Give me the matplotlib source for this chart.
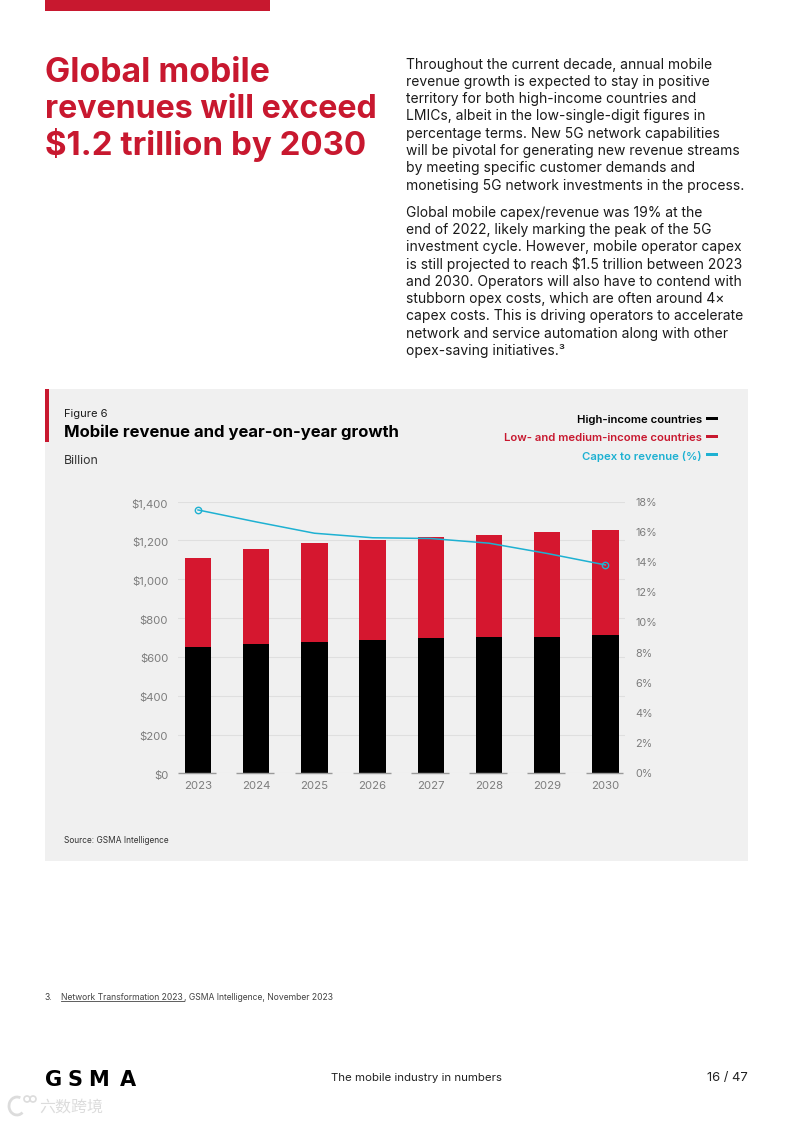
import matplotlib
matplotlib.use("Agg")
import matplotlib.pyplot as plt
from matplotlib.patches import Rectangle, Ellipse, Arc
from matplotlib.lines import Line2D
from matplotlib.transforms import ScaledTranslation
import numpy as np

W, H = 793, 1122
FONT = "Inter"
RED = "#d5172f"
TITLE_RED = "#c8182f"
CYAN = "#1eb1d2"
GREY = "#7d7d7d"
PANEL = "#f0f0f0"
MARK = "#dcdcdc"

years = ["2023", "2024", "2025", "2026", "2027", "2028", "2029", "2030"]
high_income = [651, 667, 677, 688, 698, 701, 703, 713]
total_revenue = [1108, 1153, 1184, 1202, 1216, 1230, 1242, 1252]
capex_ratio = [17.44, 16.65, 15.9, 15.6, 15.55, 15.24, 14.56, 13.8]
left_ticks = [0, 200, 400, 600, 800, 1000, 1200, 1400]
right_ticks = [0, 2, 4, 6, 8, 10, 12, 14, 16, 18]

title_lines = ["Global mobile", "revenues will exceed", "$1.2 trillion by 2030"]
title_sizes = [24.3, 23.2, 23.8]
para_1 = [
    "Throughout the current decade, annual mobile",
    "revenue growth is expected to stay in positive",
    "territory for both high-income countries and",
    "LMICs, albeit in the low-single-digit figures in",
    "percentage terms. New 5G network capabilities",
    "will be pivotal for generating new revenue streams",
    "by meeting specific customer demands and",
    "monetising 5G network investments in the process.",
]
para_2 = [
    "Global mobile capex/revenue was 19% at the",
    "end of 2022, likely marking the peak of the 5G",
    "investment cycle. However, mobile operator capex",
    "is still projected to reach $1.5 trillion between 2023",
    "and 2030. Operators will also have to contend with",
    "stubborn opex costs, which are often around 4×",
    "capex costs. This is driving operators to accelerate",
    "network and service automation along with other",
    "opex-saving initiatives.³",
]
legend_rows = [
    ("High-income countries", "#000000"),
    ("Low- and medium-income countries", TITLE_RED),
    ("Capex to revenue (%)", CYAN),
]
logo_letters = [("G", 45), ("S", 67.5), ("M", 88), ("A", 120)]


def fx(x):
    return x / W


def fy(y):
    return 1 - y / H


def put(x, y, s, size, **kw):
    # x, y are page pixels, y is the text centre unless va says otherwise
    kw.setdefault("va", "center")
    kw.setdefault("family", FONT)
    return fig.text(fx(x), fy(y), s, fontsize=size, **kw)


def box(x0, y0, x1, y1, color, z=1):
    fig.add_artist(Rectangle((fx(x0), fy(y1)), (x1 - x0) / W, (y1 - y0) / H,
                             transform=fig.transFigure, color=color, lw=0, zorder=z))


fig = plt.figure(figsize=(W / 100, H / 100), dpi=100, facecolor="white")

# page furniture
box(45, 0, 270, 11, TITLE_RED)
box(45, 389, 748, 861, PANEL, z=-2)
box(45, 389, 49, 442, TITLE_RED)

for i, line in enumerate(title_lines):
    put(45, 73 + i * 36, line, title_sizes[i], color=TITLE_RED, fontweight="bold")
for i, line in enumerate(para_1):
    put(406, 64.5 + i * 17.3, line, 10, color="#1a1a1a")
for i, line in enumerate(para_2):
    put(406, 212.5 + i * 17.3, line, 10, color="#1a1a1a")

# chart header
put(64, 414, "Figure 6", 8, color="#1a1a1a")
put(64, 432.5, "Mobile revenue and year-on-year growth", 12, color="black", fontweight="bold")
put(64, 460.5, "Billion", 8.9, color="#333333")
for i, (label, color) in enumerate(legend_rows):
    y = 420 + i * 18.2
    put(702, y, label, 8.15, color=color, ha="right", fontweight="semibold")
    box(706, y - 3, 718, y, color)

# chart area, spans $0 to $1,400 vertically
ax = fig.add_axes([fx(178), fy(773.4), (625 - 178) / W, (773.4 - 501.5) / H])
ax.patch.set_alpha(0)
x = np.arange(len(years))
red_part = [t - h for t, h in zip(total_revenue, high_income)]
ax.bar(x, high_income, width=0.455, color="black", zorder=3)
ax.bar(x, red_part, width=0.455, bottom=high_income, color=RED, zorder=3)
ax.hlines(np.zeros(len(x)), x - 0.34, x + 0.31, color="#9a9a9a", lw=1, zorder=4, clip_on=False)
ax.set_xlim(-0.344, 7.337)
ax.set_ylim(0, 1400)
ax.set_xticks(x, years)
ax.set_yticks(left_ticks, [f"${v:,}" for v in left_ticks])
ax.yaxis.grid(True, color="#dfdfdf", lw=0.8, zorder=0)
ax.set_axisbelow(True)
ax.tick_params(length=0, labelsize=8.2, labelcolor=GREY)
ax.tick_params(axis="x", pad=5.2)
ax.tick_params(axis="y", pad=7)
for lab in ax.get_xticklabels() + ax.get_yticklabels():
    lab.set_family(FONT)
# the dollar labels sit a little under their gridlines in the original
shift = ScaledTranslation(0, -1.5 / 100, fig.dpi_scale_trans)
for lab in ax.get_yticklabels():
    lab.set_transform(lab.get_transform() + shift)
for s in ax.spines.values():
    s.set_visible(False)

ax2 = ax.twinx()
ax2.set_ylim(0, 18)
ax2.set_yticks(right_ticks, [f"{v}%" for v in right_ticks])
ax2.tick_params(length=0, labelsize=7.8, labelcolor=GREY, pad=7.5)
for lab in ax2.get_yticklabels():
    lab.set_family(FONT)
for s in ax2.spines.values():
    s.set_visible(False)
ax2.plot(x, capex_ratio, color=CYAN, lw=1.1, zorder=5)
ax2.plot(x[[0, -1]], np.array(capex_ratio)[[0, -1]], ls="none", marker="o", ms=4.6,
         mfc="none", mec=CYAN, mew=1, zorder=6)

put(64, 840.5, "Source: GSMA Intelligence", 6, color="#333333")

# footer
put(45, 997, "3.", 6.2, color="#444444")
put(61, 997, "Network Transformation 2023", 6.2, color="#444444")
fig.add_artist(Line2D([fx(61), fx(184)], [fy(1001)] * 2, color="#444444", lw=0.6))
put(184, 997, ", GSMA Intelligence, November 2023", 6.2, color="#444444")
for letter, px in logo_letters:
    put(px, 1080.5, letter, 15, color="black", fontweight="bold", family="DejaVu Sans")
put(331, 1078, "The mobile industry in numbers", 8.25, color="#222222")
put(748, 1078, "16 / 47", 9.3, color="#222222", ha="right")

# faint watermark, bottom left
put(39, 1107, "六数跨境", 11.5, color=MARK, family=["Noto Sans CJK SC", "DejaVu Sans"])
fig.add_artist(Arc((fx(17), fy(1106)), 16 / W, 18 / H, theta1=60, theta2=320, color=MARK, lw=2))
fig.add_artist(Ellipse((fx(27), fy(1099)), 6 / W, 6 / H, fill=False, ec=MARK, lw=1.2))
fig.add_artist(Ellipse((fx(33), fy(1099)), 6 / W, 6 / H, fill=False, ec=MARK, lw=1.2))

fig.savefig("out.png", dpi=100)
